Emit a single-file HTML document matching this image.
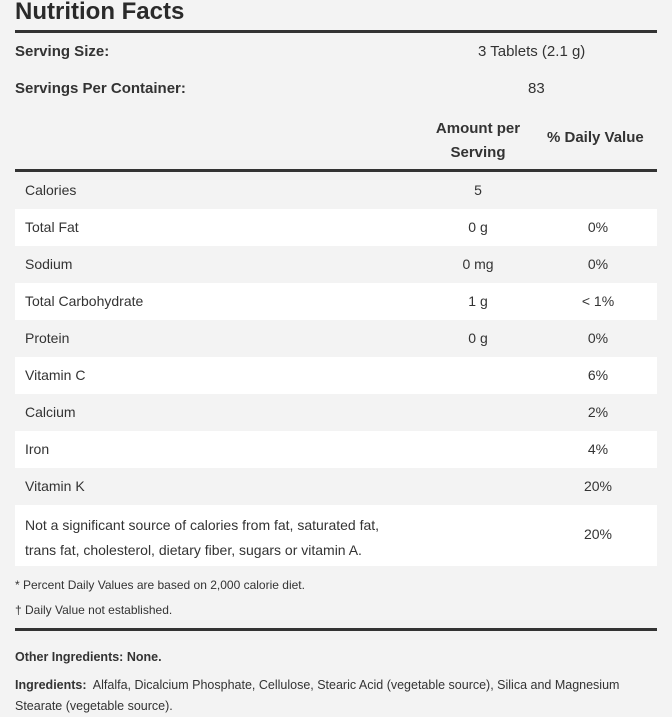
<!DOCTYPE html>
<html><head><style>
body{margin:0;width:672px;height:717px;background:#f3f3f3;font-family:"Liberation Sans",sans-serif;color:#333;position:relative;overflow:hidden}
.a{position:absolute;white-space:nowrap}
.t{font-size:15px}
.b{font-weight:bold}
.line{position:absolute;left:15px;width:642px;background:#333}
.row{position:absolute;left:15px;width:642px;height:37px}
.w{background:#fff}
.lab{position:absolute;left:10px;top:10px;font-size:14px}
.am{position:absolute;left:413px;width:100px;text-align:center;top:10px;font-size:14px}
.dv{position:absolute;left:533px;width:100px;text-align:center;top:10px;font-size:14px}
</style></head><body>
<div class="a b" style="left:15px;top:-2px;font-size:24px;color:#2a2a2a">Nutrition Facts</div>
<div class="line" style="top:30px;height:3px"></div>
<div class="a t b" style="left:15px;top:43px">Serving Size:</div>
<div class="a t" style="left:478px;top:43px">3 Tablets (2.1 g)</div>
<div class="a t b" style="left:15px;top:80px">Servings Per Container:</div>
<div class="a t" style="left:528px;top:80px">83</div>
<div class="a t b" style="left:420px;width:116px;text-align:center;top:117px;line-height:24px">Amount per<br>Serving</div>
<div class="a t b" style="left:547px;top:129px">% Daily Value</div>
<div class="line" style="top:169px;height:3px"></div>
<div class="row" style="top:172px"><div class="lab">Calories</div><div class="am">5</div></div>
<div class="row w" style="top:209px"><div class="lab">Total Fat</div><div class="am">0 g</div><div class="dv">0%</div></div>
<div class="row" style="top:246px"><div class="lab">Sodium</div><div class="am">0 mg</div><div class="dv">0%</div></div>
<div class="row w" style="top:283px"><div class="lab">Total Carbohydrate</div><div class="am">1 g</div><div class="dv">&lt; 1%</div></div>
<div class="row" style="top:320px"><div class="lab">Protein</div><div class="am">0 g</div><div class="dv">0%</div></div>
<div class="row w" style="top:357px"><div class="lab">Vitamin C</div><div class="dv">6%</div></div>
<div class="row" style="top:394px"><div class="lab">Calcium</div><div class="dv">2%</div></div>
<div class="row w" style="top:431px"><div class="lab">Iron</div><div class="dv">4%</div></div>
<div class="row" style="top:468px"><div class="lab">Vitamin K</div><div class="dv">20%</div></div>
<div class="row w" style="top:505px;height:61px"><div class="lab" style="top:8px;line-height:25px">Not a significant source of calories from fat, saturated fat,<br>trans fat, cholesterol, dietary fiber, sugars or vitamin A.</div><div class="dv" style="top:21px">20%</div></div>
<div class="a" style="left:15px;top:578px;font-size:12px">* Percent Daily Values are based on 2,000 calorie diet.</div>
<div class="a" style="left:15px;top:603px;font-size:12px">† Daily Value not established.</div>
<div class="line" style="top:628px;height:3px"></div>
<div class="a b" style="left:15px;top:650px;font-size:12.5px">Other Ingredients: None.</div>
<div class="a" style="left:15px;top:675px;font-size:12.5px;line-height:21px;white-space:normal;width:650px"><b>Ingredients:</b>&nbsp; Alfalfa, Dicalcium Phosphate, Cellulose, Stearic Acid (vegetable source), Silica and Magnesium Stearate (vegetable source).</div>
</body></html>
